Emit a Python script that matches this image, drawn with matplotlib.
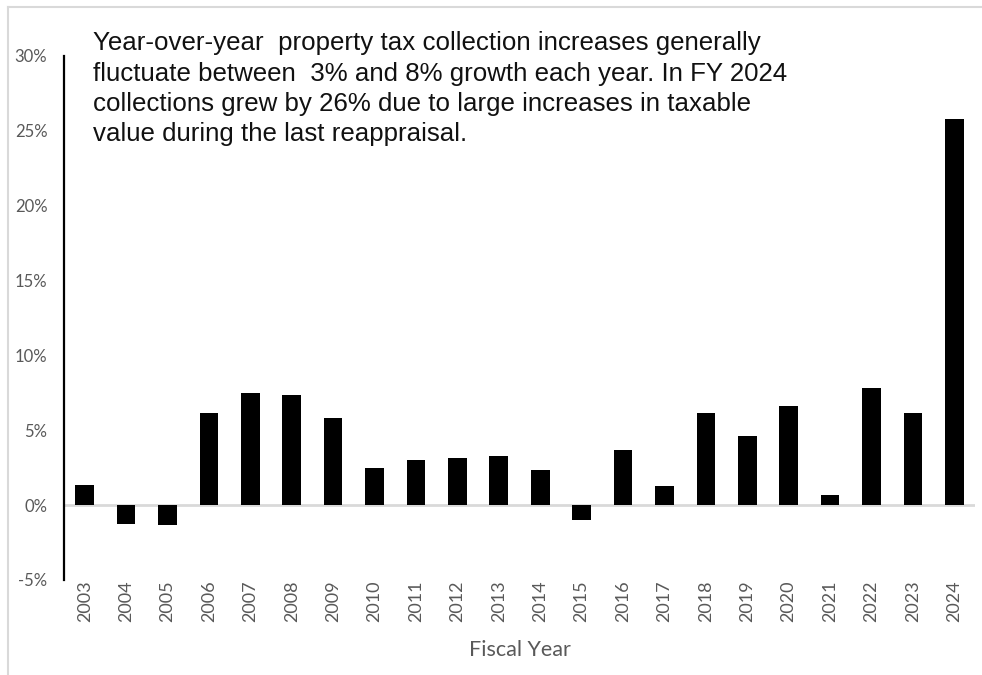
import matplotlib
matplotlib.use("Agg")
import matplotlib.pyplot as plt
from matplotlib.lines import Line2D

# Year-over-year change in property tax collections (%)
years = ["2003", "2004", "2005", "2006", "2007", "2008", "2009", "2010", "2011",
         "2012", "2013", "2014", "2015", "2016", "2017", "2018", "2019", "2020",
         "2021", "2022", "2023", "2024"]
growth_pct = [1.35, -1.25, -1.35, 6.15, 7.5, 7.35, 5.8, 2.5, 3.0, 3.15, 3.3,
              2.35, -1.0, 3.7, 1.25, 6.15, 4.65, 6.65, 0.65, 7.85, 6.15, 25.8]
ytick_values = [-5, 0, 5, 10, 15, 20, 25, 30]
ytick_labels = ["-5%", "0%", "5%", "10%", "15%", "20%", "25%", "30%"]

note_lines = [
    "Year-over-year  property tax collection increases generally",
    "fluctuate between  3% and 8% growth each year. In FY 2024",
    "collections grew by 26% due to large increases in taxable",
    "value during the last reappraisal.",
]
x_title = "Fiscal Year"

W, H = 982, 675
fig = plt.figure(figsize=(W / 100, H / 100), dpi=100)
fig.patch.set_facecolor("white")

ax = fig.add_axes([64 / W, 1 - 580 / H, (975 - 64) / W, (580 - 56) / H])
x = list(range(len(years)))
ax.bar(x, growth_pct, width=0.45, color="black", zorder=3)
ax.axhline(0, color="#d9d9d9", lw=2, zorder=2)

ax.set_xlim(-0.5, len(years) - 0.5)
ax.set_ylim(-5, 30)
ax.set_yticks(ytick_values)
ax.set_yticklabels(ytick_labels)
ax.set_xticks(x)
ax.set_xticklabels(years, rotation=90)

tick_color = "#595959"
ax.tick_params(axis="y", length=0, pad=12, labelsize=12, labelcolor=tick_color)
ax.tick_params(axis="x", length=0, pad=0, labelsize=13, labelcolor=tick_color)
for lab in ax.get_xticklabels() + ax.get_yticklabels():
    lab.set_fontfamily("Lato")

for side in ("top", "right", "bottom"):
    ax.spines[side].set_visible(False)
ax.spines["left"].set_color("black")
ax.spines["left"].set_linewidth(1.6)

fig.text(520 / W, 1 - 656 / H, x_title, ha="center", va="baseline",
         fontsize=15.5, color=tick_color, family="Lato")

baselines = [50, 80.5, 110.5, 140.5]
for line, base in zip(note_lines, baselines):
    fig.text(93 / W, 1 - base / H, line, ha="left", va="baseline",
             fontsize=18.6, color="#111111", family="Liberation Sans")

# light outer frame along the top and left edges
frame_color = "#d9d9d9"
fig.add_artist(Line2D([8 / W, 1], [1 - 6.5 / H, 1 - 6.5 / H],
                      transform=fig.transFigure, color=frame_color, lw=1.5))
fig.add_artist(Line2D([8 / W, 8 / W], [1 - 6.5 / H, 0],
                      transform=fig.transFigure, color=frame_color, lw=1.5))

fig.savefig("out.png", dpi=100, facecolor="white")
